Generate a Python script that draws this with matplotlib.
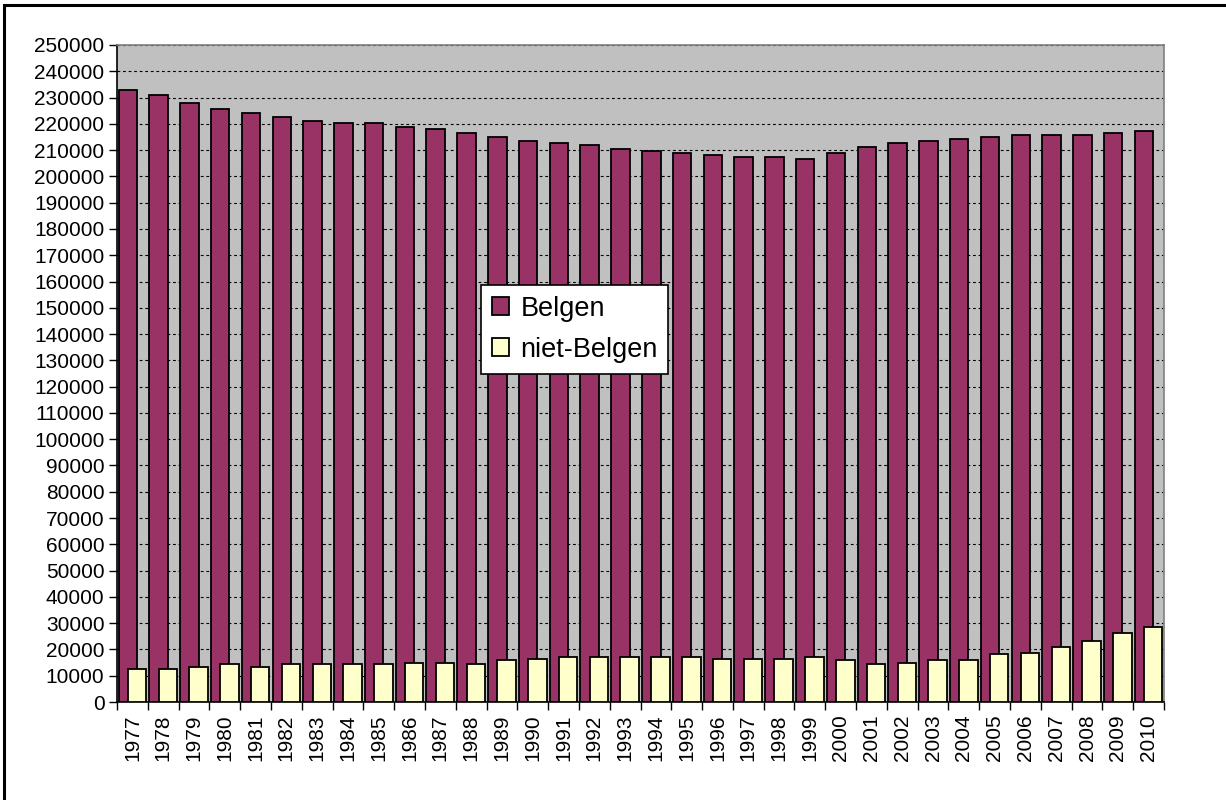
import numpy as np
import matplotlib.pyplot as plt
from matplotlib.patches import Rectangle

plt.rcParams['font.family'] = ['Liberation Sans', 'DejaVu Sans']

# Data
# ____________________________________________________________
years = list(range(1977, 2011))
belgen = [233000, 231000, 227800, 225500, 224000, 222500, 221000, 220200, 220200,
          218700, 217900, 216400, 214900, 213500, 212700, 212000, 210500, 209700,
          208900, 208200, 207400, 207400, 206700, 208900, 211200, 212700, 213500,
          214200, 215000, 215800, 215800, 215800, 216500, 217300]
niet_belgen = [12700, 12700, 13500, 14300, 13500, 14300, 14300, 14300, 14300,
               15000, 15000, 14300, 15800, 16500, 17300, 17300, 17300, 17300,
               17300, 16500, 16500, 16500, 17300, 15800, 14300, 15000, 15800,
               15800, 18100, 18800, 21100, 23400, 26400, 28700]

C_BELG = '#993366'
C_NIET = '#FFFFCC'
C_BG   = '#C0C0C0'

fig = plt.figure(figsize=(12.26, 8), dpi=100, facecolor='white')
ax = fig.add_axes([117 / 1226, 1 - 702 / 800, (1164 - 117) / 1226, (702 - 45) / 800])
ax.set_facecolor(C_BG)

x = np.arange(len(years))
w = 0.6
ax.bar(x - 0.15, belgen, width=w, color=C_BELG, edgecolor='black', linewidth=1.3,
       label='Belgen', zorder=3)
ax.bar(x + 0.15, niet_belgen, width=w, color=C_NIET, edgecolor='black', linewidth=1.3,
       label='niet-Belgen', zorder=4)

ax.set_xlim(-0.5, len(years) - 0.5)
ax.set_ylim(0, 250000)
ax.set_yticks(np.arange(0, 250001, 10000))
ax.set_yticklabels([str(v) for v in range(0, 250001, 10000)])
ax.yaxis.grid(True, color='black', linestyle=(0, (2.5, 2.5)), linewidth=0.8)
ax.set_axisbelow(True)

ax.set_xticks(x)
ax.set_xticklabels([str(y) for y in years], rotation=90)
ax.set_xticks(np.arange(-0.5, len(years), 1), minor=True)
ax.tick_params(axis='x', which='major', length=0, pad=9, labelsize=15)
ax.tick_params(axis='x', which='minor', length=6, width=1, color='black')
ax.tick_params(axis='y', length=6, width=1, labelsize=15, pad=3)

for side in ['top', 'right']:
    ax.spines[side].set_color('#808080')
    ax.spines[side].set_linewidth(1.2)
for side in ['left', 'bottom']:
    ax.spines[side].set_color('black')
    ax.spines[side].set_linewidth(1.2)

leg = ax.legend(loc='upper left', bbox_to_anchor=(481 / 1226, 1 - 285 / 800),
                bbox_transform=fig.transFigure, fontsize=19.5, frameon=True,
                fancybox=False, framealpha=1, edgecolor='black',
                handlelength=0.65, handleheight=0.65, handletextpad=0.4,
                labelspacing=0.55, borderpad=0.4, borderaxespad=0)
leg.get_frame().set_linewidth(1.2)
leg.set_zorder(10)

# outer chart border
fig.patches.append(Rectangle((4 / 1226, -0.1), 1.2, 1 - 5 / 800 + 0.1, transform=fig.transFigure,
                             fill=False, edgecolor='black', linewidth=2.2))

fig.savefig('out.png', dpi=100, facecolor='white')
